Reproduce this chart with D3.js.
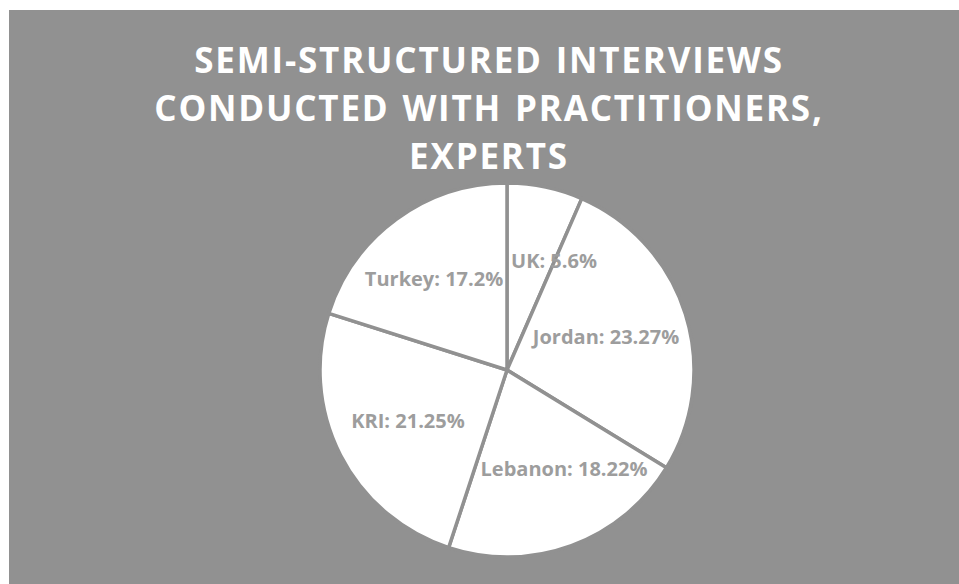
<!DOCTYPE html>
<html><head><meta charset="utf-8">
<script src="https://cdn.jsdelivr.net/npm/d3@7"></script>
<style>
html,body{margin:0;padding:0;background:#fff;}
svg{display:block;}
</style></head>
<body>
<svg id="chart" width="959" height="584"></svg>
<script>
const categories = ["UK", "Jordan", "Lebanon", "KRI", "Turkey"];
const values = [5.6, 23.27, 18.22, 21.25, 17.2];
const labels = ["UK: 5.6%", "Jordan: 23.27%", "Lebanon: 18.22%", "KRI: 21.25%", "Turkey: 17.2%"];
const titleLines = ["SEMI-STRUCTURED INTERVIEWS", "CONDUCTED WITH PRACTITIONERS,", "EXPERTS"];

const W = 959, H = 584;
const bg = "#919191";
const svg = d3.select("#chart");
svg.append("rect").attr("x", 9).attr("y", 10).attr("width", W - 9).attr("height", H - 10).attr("fill", bg);

const title = svg.append("text")
  .attr("text-anchor", "middle")
  .attr("font-family", "'Open Sans', sans-serif")
  .attr("font-weight", "bold")
  .attr("font-size", 35)
  .attr("letter-spacing", 1.8)
  .attr("word-spacing", 2)
  .attr("fill", "#ffffff");
titleLines.forEach((t, i) => {
  title.append("tspan").attr("x", 489).attr("y", 73 + i * 48).text(t);
});

const cx = 507, cy = 370, r = 187;
const data = categories.map((c, i) => ({ c, v: values[i], label: labels[i] }));
const pie = d3.pie().value(d => d.v).sort(null);
const arc = d3.arc().innerRadius(0).outerRadius(r);
const g = svg.append("g").attr("transform", `translate(${cx},${cy})`);
const arcs = pie(data);
g.selectAll("path").data(arcs).join("path")
  .attr("d", arc)
  .attr("fill", "#ffffff")
  .attr("stroke", bg)
  .attr("stroke-width", 3.5)
  .attr("stroke-linejoin", "round");

const texts = g.selectAll("text").data(arcs).join("text")
  .attr("text-anchor", "middle")
  .attr("dy", "0.35em")
  .attr("font-family", "'Open Sans', sans-serif")
  .attr("font-weight", "bold")
  .attr("font-size", 20)
  .attr("fill", "#9d9d9d")
  .text(d => d.data.label);

// "best fit" placement: keep label inside its slice, avoid borders, stay near centroid
function segInRect(ax, ay, bx, by, x0, y0, x1, y1) {
  let t0 = 0, t1 = 1; const dx = bx - ax, dy = by - ay;
  const p = [-dx, dx, -dy, dy], q = [ax - x0, x1 - ax, ay - y0, y1 - ay];
  for (let i = 0; i < 4; i++) {
    if (p[i] === 0) { if (q[i] < 0) return 0; }
    else { const t = q[i] / p[i]; if (p[i] < 0) t0 = Math.max(t0, t); else t1 = Math.min(t1, t); }
  }
  return t1 > t0 ? (t1 - t0) * Math.hypot(dx, dy) : 0;
}
function angleOf(x, y) { let a = Math.atan2(x, -y); if (a < 0) a += 2 * Math.PI; return a; }
texts.each(function(d) {
  const w = this.getComputedTextLength(), h = 15;
  const mid = (d.startAngle + d.endAngle) / 2;
  const rc = r * 0.6;
  const c0 = [rc * Math.sin(mid), -rc * Math.cos(mid)];
  const borders = [[d.startAngle, 6], [d.endAngle, 3]].map(([a, wt]) => [r * Math.sin(a), -r * Math.cos(a), wt]);
  const tol = 0.01;
  let best = null;
  for (let x = -r; x <= r; x += 2) for (let y = -r; y <= r; y += 2) {
    const a = angleOf(x, y);
    if (a < d.startAngle - tol || a > d.endAngle + tol) continue;
    const x0 = x - w / 2 - 3, x1 = x + w / 2 + 3, y0 = y - h / 2 - 2, y1 = y + h / 2 + 2;
    let cost = Math.hypot(x - c0[0], y - c0[1]);
    let out = 0;
    [[x0, y0], [x1, y0], [x0, y1], [x1, y1]].forEach(([px, py]) => { out += Math.max(0, Math.hypot(px, py) - (r - 6)); });
    cost += out * 20;
    borders.forEach(([bx, by, wt]) => { cost += wt * segInRect(0, 0, bx, by, x0, y0, x1, y1); });
    if (!best || cost < best.cost) best = { cost, x, y };
  }
  d3.select(this).attr("transform", `translate(${best.x},${best.y})`);
});
</script>
</body></html>
